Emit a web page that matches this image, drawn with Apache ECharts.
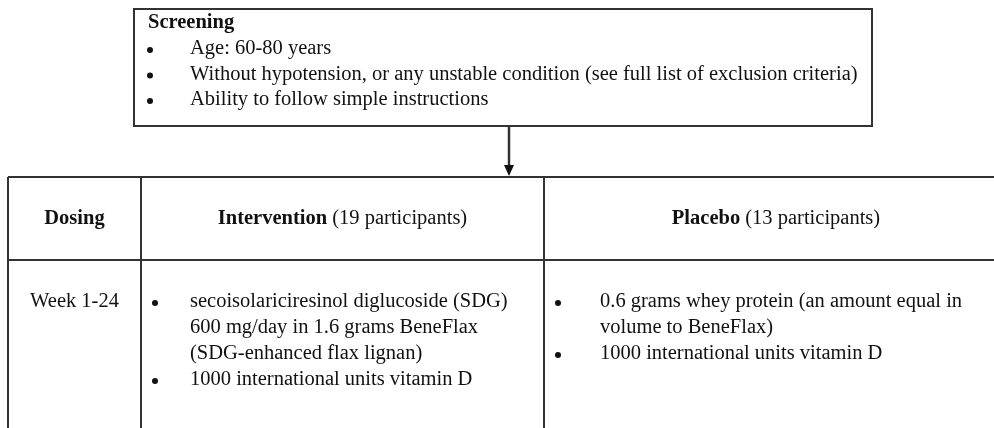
<!DOCTYPE html>
<html><head><meta charset="utf-8">
<script src="https://cdn.jsdelivr.net/npm/echarts@6/dist/echarts.min.js"></script>
<style>html,body{margin:0;padding:0;background:#fff}#c{width:994px;height:428px}</style>
</head><body><div id="c"></div>
<script>
var screeningTitle = 'Screening';
var screeningItems = [
  'Age: 60-80 years',
  'Without hypotension, or any unstable condition (see full list of exclusion criteria)',
  'Ability to follow simple instructions'
];
var headerBold = ['Dosing', 'Intervention', 'Placebo'];
var headerNormal = ['', ' (19 participants)', ' (13 participants)'];
var dosingLabel = 'Week 1-24';
var interventionItems = [
  ['secoisolariciresinol diglucoside (SDG)', '600 mg/day in 1.6 grams BeneFlax', '(SDG-enhanced flax lignan)'],
  ['1000 international units vitamin D']
];
var placeboItems = [
  ['0.6 grams whey protein (an amount equal in', 'volume to BeneFlax)'],
  ['1000 international units vitamin D']
];

(function () {
var FONT = '"Liberation Serif", "Times New Roman", serif';
var FS = 20.5;
var LH = 26;
var LINE = '#333';
var els = [];
function txt(x, y, s, opt) {
  opt = opt || {};
  els.push({type: 'text', x: x, y: y, style: {text: s, font: (opt.bold ? 'bold ' : '') + FS + 'px ' + FONT, fill: '#111', align: opt.align || 'left', verticalAlign: 'middle'}});
}
function richTxt(x, y, b, n) {
  els.push({type: 'text', x: x, y: y, style: {text: '{b|' + b + '}' + (n ? '{n|' + n + '}' : ''), align: 'center', verticalAlign: 'middle',
    rich: {b: {font: 'bold ' + FS + 'px ' + FONT, fill: '#111'}, n: {font: FS + 'px ' + FONT, fill: '#111'}}}});
}
function line(x1, y1, x2, y2, w) {
  els.push({type: 'line', shape: {x1: x1, y1: y1, x2: x2, y2: y2}, style: {stroke: LINE, lineWidth: w || 2}});
}
function bulletList(items, bx, tx, y0, lh) {
  var y = y0;
  items.forEach(function (lines) {
    if (typeof lines === 'string') lines = [lines];
    els.push({type: 'circle', shape: {cx: bx, cy: y + 1, r: 3}, style: {fill: '#111'}});
    lines.forEach(function (l) { txt(tx, y, l); y += lh; });
  });
}

// Screening box
els.push({type: 'rect', shape: {x: 134, y: 9, width: 738, height: 117}, style: {fill: '#fff', stroke: LINE, lineWidth: 2}});
txt(148, 23, screeningTitle, {bold: true});
bulletList(screeningItems, 150, 190, 49, 25.5);

// Arrow
line(509, 126, 509, 168, 2.5);
els.push({type: 'polygon', shape: {points: [[504, 165], [514, 165], [509, 176]]}, style: {fill: '#111'}});

// Table
var yTop = 177, yHdr = 260, c0 = 8, c1 = 141, c2 = 544, xRight = 1008;
line(c0, yTop, xRight, yTop);
line(c0, yHdr, xRight, yHdr);
line(c0, yTop, c0, 430);
line(c1, yTop, c1, 430);
line(c2, yTop, c2, 430);
var cy = (yTop + yHdr) / 2;
richTxt((c0 + c1) / 2, cy, headerBold[0], headerNormal[0]);
richTxt((c1 + c2) / 2, cy, headerBold[1], headerNormal[1]);
richTxt((c2 + xRight) / 2, cy, headerBold[2], headerNormal[2]);
txt((c0 + c1) / 2, 302, dosingLabel, {align: 'center'});
bulletList(interventionItems, 155, 190, 302, 26);
bulletList(placeboItems, 558, 600, 302, 26);

var chart = echarts.init(document.getElementById('c'));
chart.setOption({animation: false, graphic: {elements: els}});
})();
</script></body></html>
